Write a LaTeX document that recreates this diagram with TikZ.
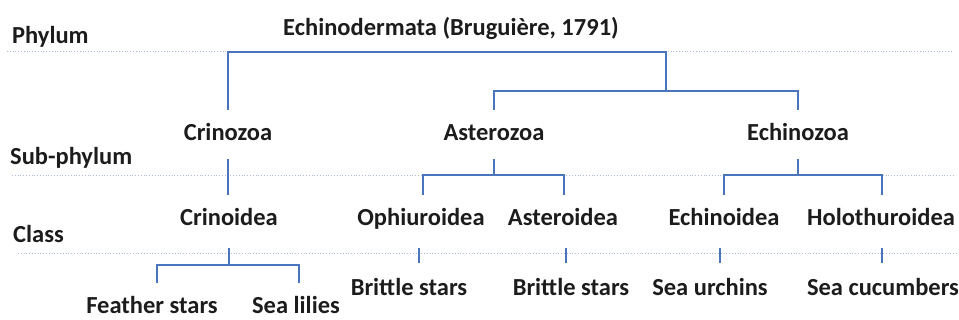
\documentclass[tikz,border=0pt]{standalone}
\usepackage{fontspec}
\setmainfont{Carlito}
\definecolor{linkblue}{HTML}{4A74BC}
\definecolor{guide}{HTML}{AEBCDC}
\definecolor{ink}{HTML}{1C1C1C}
\begin{document}
\begin{tikzpicture}[x=1pt,y=-1pt,
  lbl/.style={font=\fontsize{24.5}{28}\selectfont\bfseries, text=ink, inner xsep=0pt,
    text height=17pt, text depth=2pt, inner ysep=13.5pt},
  lowlbl/.style={lbl, inner ysep=1pt},
  rank/.style={lbl, anchor=west},
  conn/.style={draw=linkblue, line width=2.2pt},
  guideline/.style={draw=guide, line width=0.8pt, dotted}]
\useasboundingbox (0,0) rectangle (959,320);
% guide lines
\draw[guideline] (7,51) -- (952,51);
\draw[guideline] (12,175) -- (955,175);
\draw[guideline] (18,253) -- (958,253);
% rank labels
\node[rank] (phylum) at (12,36) {Phylum};
\node[rank] (subphylum) at (10,157) {Sub-phylum};
\node[rank] (class) at (13,235) {Class};
% taxa
\node[lbl] (echino) at (451,28) {Echinodermata (Bruguière, 1791)};
\node[lbl] (crinozoa) at (228,133) {Crinozoa};
\node[lbl] (asterozoa) at (494,133) {Asterozoa};
\node[lbl] (echinozoa) at (798,133) {Echinozoa};
\node[lbl] (crinoidea) at (229,218) {Crinoidea};
\node[lbl] (ophiuroidea) at (421,218) {Ophiuroidea};
\node[lbl] (asteroidea) at (563,218) {Asteroidea};
\node[lbl] (echinoidea) at (724,218) {Echinoidea};
\node[lbl] (holothuroidea) at (881,218) {Holothuroidea};
\node[lowlbl] (feather) at (152,306) {Feather stars};
\node[lowlbl] (lilies) at (296,306) {Sea lilies};
\node[lbl] (brittleA) at (409,288) {Brittle stars};
\node[lbl] (brittleB) at (571,288) {Brittle stars};
\node[lbl] (urchins) at (710,288) {Sea urchins};
\node[lbl] (cucumbers) at (883,288) {Sea cucumbers};
% junctions
\coordinate (jtop) at (666,52);
\coordinate (jsub) at (666,91);
\coordinate (jast) at (494,175);
\coordinate (jech) at (798,175);
\coordinate (jcri) at (229,265);
% phylum -> sub-phyla
\draw[conn] (crinozoa.north) |- (jtop) -- (jsub);
\draw[conn] (asterozoa.north) |- (jsub) -| (echinozoa.north);
% sub-phyla -> classes
\draw[conn, shorten <=3pt] (crinozoa.south) -- (crinozoa.south |- crinoidea.north);
\draw[conn, shorten <=3pt] (asterozoa.south) -- (jast);
\draw[conn] ([xshift=2pt]ophiuroidea.north) |- (jast) -| ([xshift=1pt]asteroidea.north);
\draw[conn, shorten <=3pt] (echinozoa.south) -- (jech);
\draw[conn] (echinoidea.north) |- (jech) -| ([xshift=1pt]holothuroidea.north);
% classes -> common names
\draw[conn, shorten <=7pt] (crinoidea.south) -- (jcri);
\draw[conn] ([xshift=5pt,yshift=12.5pt]feather.north) |- (jcri) -| ([xshift=3pt,yshift=12.5pt]lilies.north);
\draw[conn, shorten <=7pt, shorten >=2pt] ([xshift=-2pt]ophiuroidea.south) -- ([xshift=-2pt]ophiuroidea.south |- brittleA.north);
\draw[conn, shorten <=7pt, shorten >=2pt] ([xshift=3pt]asteroidea.south) -- ([xshift=3pt]asteroidea.south |- brittleB.north);
\draw[conn, shorten <=7pt, shorten >=2pt] ([xshift=-4pt]echinoidea.south) -- ([xshift=-4pt]echinoidea.south |- urchins.north);
\draw[conn, shorten <=7pt, shorten >=2pt] ([xshift=1pt]holothuroidea.south) -- ([xshift=1pt]holothuroidea.south |- cucumbers.north);
\end{tikzpicture}
\end{document}
